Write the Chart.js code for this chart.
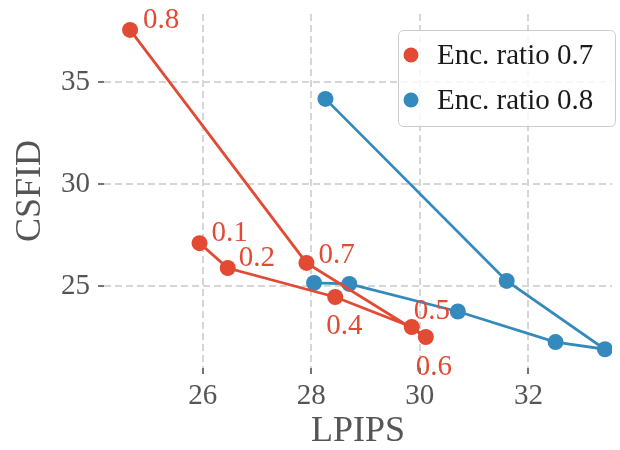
<!DOCTYPE html>
<html>
<head>
<meta charset="utf-8">
<script src="https://cdn.jsdelivr.net/npm/chart.js@4"></script>
<style>
  html, body { margin: 0; padding: 0; background: #fff; }
  #wrap { width: 620px; height: 450px; }
</style>
</head>
<body>
<div id="wrap"><canvas id="c" width="620" height="450"></canvas></div>
<script>
// ---- data ----
const seriesNames = ['Enc. ratio 0.7', 'Enc. ratio 0.8'];
const redLPIPS  = [25.94, 26.46, 28.44, 29.85, 30.11, 27.91, 24.66];
const redCSFID  = [27.10, 25.88, 24.46, 22.99, 22.50, 26.13, 37.55];
const redLabels = ['0.1', '0.2', '0.4', '0.5', '0.6', '0.7', '0.8'];
const blueLPIPS = [28.05, 28.70, 30.70, 32.50, 33.41, 31.60, 28.26];
const blueCSFID = [25.15, 25.10, 23.75, 22.25, 21.90, 25.25, 34.17];
const xTicks = [26, 28, 30, 32];
const yTicks = [25, 30, 35];

const RED = '#E24A33', BLUE = '#348ABD';
const FONT = "'Liberation Serif', 'Times New Roman', serif";

const toPts = (xs, ys) => xs.map((x, i) => ({ x: x, y: ys[i] }));

// pixel offsets for the point labels (left edge, vertical centre)
const labelOffsets = [[12,-10],[11,-10],[-9,29],[2,-16],[-10,30],[12,-8],[13,-10]];

const pointLabels = {
  id: 'pointLabels',
  afterDatasetsDraw(chart) {
    const ctx = chart.ctx;
    const meta = chart.getDatasetMeta(0);
    ctx.save();
    ctx.font = '29px ' + FONT;
    ctx.fillStyle = RED;
    ctx.textAlign = 'left';
    ctx.textBaseline = 'middle';
    meta.data.forEach((pt, i) => {
      const o = labelOffsets[i];
      ctx.fillText(redLabels[i], pt.x + o[0], pt.y + o[1]);
    });
    ctx.restore();
  }
};

const boxLegend = {
  id: 'boxLegend',
  afterDraw(chart) {
    const ctx = chart.ctx;
    const x0 = 398, y0 = 30, w = 217, h = 96, r = 5;
    ctx.save();
    ctx.beginPath();
    ctx.roundRect(x0 + 0.5, y0 + 0.5, w, h, r);
    ctx.fillStyle = 'rgba(255,255,255,0.8)';
    ctx.fill();
    ctx.strokeStyle = '#cccccc';
    ctx.lineWidth = 1;
    ctx.stroke();
    const cols = [RED, BLUE];
    const ys = [55, 100];
    ctx.font = '29px ' + FONT;
    ctx.textAlign = 'left';
    ctx.textBaseline = 'middle';
    seriesNames.forEach((name, i) => {
      ctx.beginPath();
      ctx.arc(411, ys[i], 7.5, 0, Math.PI * 2);
      ctx.fillStyle = cols[i];
      ctx.fill();
      ctx.fillStyle = '#1a1a1a';
      ctx.fillText(name, 437, ys[i] + 1);
    });
    ctx.restore();
  }
};

function noPad(scale) {
  scale.paddingTop = 0; scale.paddingBottom = 0;
  scale.paddingLeft = 0; scale.paddingRight = 0;
}

new Chart(document.getElementById('c'), {
  type: 'scatter',
  data: {
    datasets: [
      {
        label: seriesNames[0],
        data: toPts(redLPIPS, redCSFID),
        showLine: true,
        borderColor: RED,
        backgroundColor: RED,
        borderWidth: 2.8,
        pointRadius: 8,
        pointBorderWidth: 0,
        pointBackgroundColor: RED,
        tension: 0
      },
      {
        label: seriesNames[1],
        data: toPts(blueLPIPS, blueCSFID),
        showLine: true,
        borderColor: BLUE,
        backgroundColor: BLUE,
        borderWidth: 2.8,
        pointRadius: 8,
        pointBorderWidth: 0,
        pointBackgroundColor: BLUE,
        tension: 0
      }
    ]
  },
  options: {
    responsive: false,
    animation: false,
    devicePixelRatio: 1,
    layout: { padding: { top: 14, right: 0, bottom: 0, left: 0 } },
    plugins: {
      legend: { display: false },
      tooltip: { enabled: false }
    },
    scales: {
      x: {
        type: 'linear',
        min: 24.18,
        max: 33.54,
        afterBuildTicks(scale) { scale.ticks = xTicks.map(v => ({ value: v })); },
        afterFit(scale) { scale.height = 82; noPad(scale); },
        grid: {
          color: '#d6d6d6',
          lineWidth: 2,
          tickColor: '#444',
          tickWidth: 1.5,
          tickLength: 6,
          drawOnChartArea: true
        },
        border: { display: false, dash: [7, 4] },
        ticks: {
          color: '#555',
          font: { family: FONT, size: 29 },
          padding: 5,
          maxRotation: 0
        },
        title: {
          display: true,
          text: 'LPIPS',
          color: '#555',
          font: { family: FONT, size: 36, lineHeight: 1 },
          padding: { top: -5, bottom: 0 }
        }
      },
      y: {
        type: 'linear',
        min: 20.98,
        max: 38.33,
        afterBuildTicks(scale) { scale.ticks = yTicks.map(v => ({ value: v })); },
        afterFit(scale) { scale.width = 104; noPad(scale); },
        grid: {
          color: '#d6d6d6',
          lineWidth: 2,
          tickColor: '#444',
          tickWidth: 1.5,
          tickLength: 6
        },
        border: { display: false, dash: [7, 4] },
        ticks: {
          color: '#555',
          font: { family: FONT, size: 29 },
          padding: 8
        },
        title: {
          display: true,
          text: 'CSFID',
          color: '#555',
          font: { family: FONT, size: 36, lineHeight: 1 },
          padding: { top: 13, bottom: 0 }
        }
      }
    }
  },
  plugins: [pointLabels, boxLegend]
});
</script>
</body>
</html>
